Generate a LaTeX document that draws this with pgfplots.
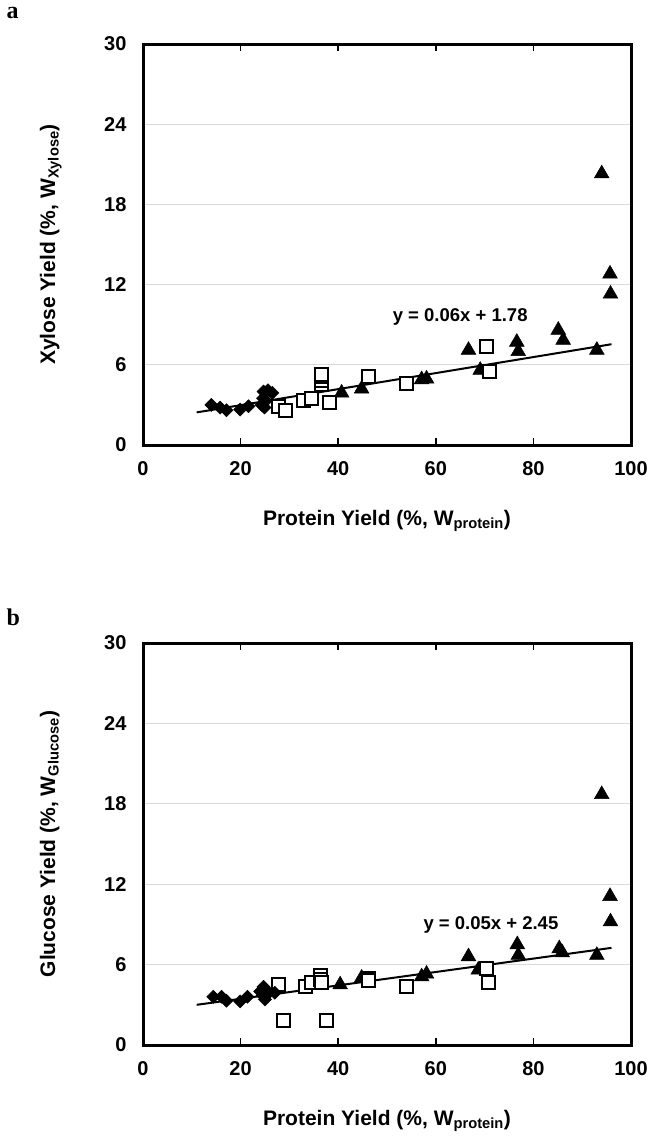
\documentclass[border=0pt]{standalone}
\usepackage{fontspec}
\setmainfont{Liberation Sans}
\newfontfamily\serifbf{Liberation Serif}
\usepackage{pgfplots}
\pgfplotsset{compat=1.18}
\pgfplotsset{myaxis/.style={
  scale only axis, width=488pt,
  xmin=0, xmax=100, ymin=0, ymax=30,
  xtick={0,20,...,100}, ytick={0,6,...,30},
  axis line style={line width=3pt},
  ymajorgrids, grid style={draw=black!15, line width=1pt},
  tick align=inside, major tick length=7pt,
  xtick style={black, line width=1.5pt},
  ytick style={draw=none},
  ticklabel style={font=\fontsize{20}{22}\selectfont\bfseries},
  /pgf/number format/assume math mode=true,
  xticklabel shift=13pt, yticklabel shift=13pt,
  xlabel style={at={(axis description cs:0.5,0)}, anchor=base, yshift=-80pt, font=\fontsize{21}{24}\selectfont\bfseries},
  ylabel style={at={(axis description cs:-0.18,0.5)}, anchor=base, rotate=0, font=\fontsize{21}{24}\selectfont\bfseries},
  clip=false,
}}
\begin{document}
\begin{tikzpicture}
\useasboundingbox (0,0) rectangle (651pt,-1138pt);
\node[anchor=base west, font=\fontsize{24}{26}\selectfont\serifbf\bfseries] at (3pt,-18pt) {a};
\node[anchor=base west, font=\fontsize{24}{26}\selectfont\serifbf\bfseries] at (3pt,-625pt) {b};
% Panel a
\begin{axis}[myaxis, height=401pt, at={(143pt,-445pt)}, anchor=south west,
  xlabel={Protein Yield (\%, W\textsubscript{protein})},
  ylabel={Xylose Yield (\%, W\textsubscript{Xylose})}]
\addplot[only marks, mark=triangle*, mark size=8.5pt, mark options={black, fill=black, line width=0.5pt}] coordinates {
(40.7,3.9) (44.8,4.2) (57.1,4.9) (58.1,4.95) (66.7,7.1) (69.1,5.6) (76.6,7.7) (76.9,7.0) (85.1,8.6) (86.1,7.85) (93.0,7.1) (94.0,20.3) (95.7,12.8) (95.8,11.3)};
\addplot[only marks, mark=square*, mark size=6.5pt, mark options={draw=black, fill=white, line width=2pt}] coordinates {
(27.7,2.9) (29.3,2.6) (32.9,3.3) (34.6,3.5) (36.6,4.5) (36.6,4.8) (36.6,5.1) (36.6,5.3) (38.3,3.2) (46.2,5.1) (54.0,4.6) (70.3,7.35) (71.1,5.5)};
\addplot[only marks, mark=square*, mark size=4.6pt, mark options={black, fill=black, rotate=45, line width=0.5pt}] coordinates {
(14.0,3.0) (15.8,2.8) (17.1,2.6) (19.9,2.65) (21.6,2.9) (24.3,3.0) (24.6,3.5) (24.7,4.0) (25.6,4.1) (26.5,3.9) (25.2,3.3) (24.9,2.8)};
\addplot[black, line width=2pt] coordinates {(11,2.44) (96,7.54)};
\node[font=\fontsize{18.5}{20}\selectfont\bfseries] at (axis cs:65,9.6) {y = 0.06x + 1.78};
\end{axis}
% Panel b
\begin{axis}[myaxis, height=402pt, at={(143pt,-1045pt)}, anchor=south west,
  xlabel={Protein Yield (\%, W\textsubscript{protein})},
  ylabel={Glucose Yield (\%, W\textsubscript{Glucose})}]
\addplot[only marks, mark=triangle*, mark size=8.5pt, mark options={black, fill=black, line width=0.5pt}] coordinates {
(40.4,4.5) (44.8,5.0) (57.1,5.1) (58.1,5.3) (66.7,6.6) (68.7,5.6) (76.7,7.5) (76.9,6.7) (85.3,7.2) (85.9,6.9) (93.0,6.7) (94.0,18.7) (95.7,11.1) (95.8,9.2)};
\addplot[only marks, mark=square*, mark size=6.5pt, mark options={draw=black, fill=white, line width=2pt}] coordinates {
(27.7,4.5) (28.8,1.8) (33.2,4.35) (34.6,4.7) (36.3,5.2) (36.3,4.9) (36.6,4.7) (37.6,1.8) (46.2,5.0) (46.2,4.8) (54.0,4.35) (70.4,5.7) (70.8,4.7)};
\addplot[only marks, mark=square*, mark size=4.6pt, mark options={black, fill=black, rotate=45, line width=0.5pt}] coordinates {
(14.4,3.6) (16.1,3.6) (17.1,3.3) (19.9,3.25) (21.4,3.6) (24.0,4.0) (24.7,4.35) (25.0,3.4) (25.8,3.9) (27.0,3.9) (24.5,3.7)};
\addplot[black, line width=2pt] coordinates {(11,3.0) (96,7.25)};
\node[font=\fontsize{18.5}{20}\selectfont\bfseries] at (axis cs:71.3,8.95) {y = 0.05x + 2.45};
\end{axis}
\end{tikzpicture}
\end{document}
